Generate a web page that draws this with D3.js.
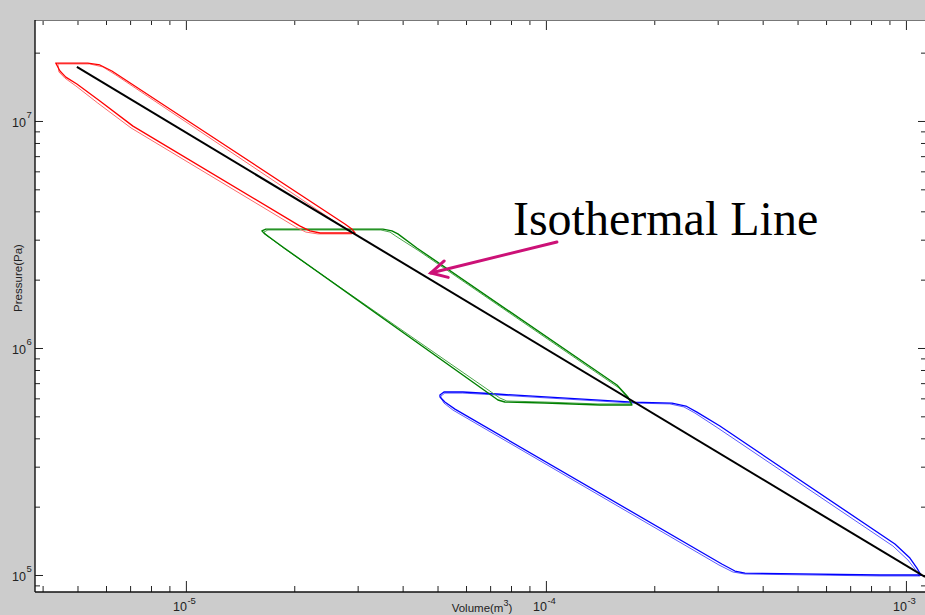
<!DOCTYPE html>
<html>
<head>
<meta charset="utf-8">
<script src="https://cdn.jsdelivr.net/npm/d3@7"></script>
<style>
  html, body { margin: 0; padding: 0; background: #cccccc; overflow: hidden; }
  svg { display: block; }
</style>
</head>
<body>
<svg id="chart" width="925" height="615"></svg>
<script>
// Pressure–volume loops [volume m^3, pressure Pa], two recorded cycles per stage
const redCycle1 = [
  [4.35e-6, 1.80e7], [5.34e-6, 1.80e7], [5.77e-6, 1.765e7], [6.23e-6, 1.66e7],
  [2.765e-5, 3.52e6], [2.89e-5, 3.34e6], [2.95e-5, 3.21e6], [2.36e-5, 3.21e6],
  [2.21e-5, 3.28e6], [2.07e-5, 3.45e6], [7.13e-6, 9.49e6], [5.77e-6, 1.225e7],
  [4.98e-6, 1.455e7], [4.64e-6, 1.56e7], [4.47e-6, 1.66e7]
];
const redCycle2 = [
  [4.41e-6, 1.783e7], [5.41e-6, 1.783e7], [5.88e-6, 1.73e7], [6.39e-6, 1.594e7],
  [2.73e-5, 3.41e6], [2.86e-5, 3.28e6], [2.89e-5, 3.18e6], [2.326e-5, 3.18e6],
  [2.154e-5, 3.24e6], [2.02e-5, 3.41e6], [7.04e-6, 9.32e6], [5.69e-6, 1.20e7],
  [4.95e-6, 1.426e7], [4.61e-6, 1.546e7], [4.44e-6, 1.644e7]
];
const greenCycle1 = [
  [1.626e-5, 3.28e6], [1.668e-5, 3.34e6], [3.526e-5, 3.34e6], [3.735e-5, 3.28e6],
  [3.88e-5, 3.18e6], [4.38e-5, 2.758e6], [1.575e-4, 6.87e5], [1.69e-4, 6.08e5],
  [1.734e-4, 5.61e5], [1.413e-4, 5.61e5], [9.94e-5, 5.72e5], [7.69e-5, 5.78e5],
  [7.36e-5, 5.90e5], [1.859e-5, 2.786e6], [1.733e-5, 3.02e6], [1.657e-5, 3.18e6]
];
const greenCycle2 = [
  [1.647e-5, 3.24e6], [1.69e-5, 3.31e6], [3.48e-5, 3.31e6], [3.69e-5, 3.24e6],
  [3.83e-5, 3.11e6], [4.44e-5, 2.676e6], [1.595e-4, 6.67e5], [1.701e-4, 5.96e5],
  [1.723e-4, 5.67e5], [1.395e-4, 5.67e5], [9.94e-5, 5.78e5], [7.79e-5, 5.84e5],
  [7.45e-5, 6.02e5], [1.884e-5, 2.73e6], [1.744e-5, 2.99e6], [1.668e-5, 3.15e6]
];
const blueCycle1 = [
  [5.077e-5, 6.21e5], [5.21e-5, 6.40e5], [5.88e-5, 6.40e5], [7.31e-5, 6.27e5],
  [1.745e-4, 5.78e5], [2.239e-4, 5.72e5], [2.448e-4, 5.55e5], [2.627e-4, 5.22e5],
  [3.043e-4, 4.53e5], [9.32e-4, 1.369e5], [1.026e-3, 1.188e5], [1.073e-3, 1.073e5],
  [1.101e-3, 1.00e5], [8.47e-4, 1.00e5], [3.572e-4, 1.02e5], [3.35e-4, 1.041e5],
  [3.08e-4, 1.118e5], [5.59e-5, 5.38e5], [5.24e-5, 5.78e5], [5.08e-5, 6.08e5]
];
const blueCycle2 = [
  [5.11e-5, 6.14e5], [5.24e-5, 6.33e5], [5.88e-5, 6.33e5], [7.31e-5, 6.21e5],
  [1.745e-4, 5.72e5], [2.21e-4, 5.67e5], [2.417e-4, 5.50e5], [2.594e-4, 5.17e5],
  [3.005e-4, 4.44e5], [9.20e-4, 1.342e5], [1.013e-3, 1.164e5], [1.059e-3, 1.063e5],
  [1.094e-3, 9.90e4], [8.47e-4, 9.90e4], [3.572e-4, 1.01e5], [3.307e-4, 1.031e5],
  [3.024e-4, 1.107e5], [5.516e-5, 5.33e5], [5.21e-5, 5.72e5], [5.11e-5, 6.02e5]
];
// Reference isotherm (PV = const) across all three stages
const isotherm = [[4.98e-6, 1.73e7], [1.13e-3, 9.8e4]];

// Axis ranges and tick labels
const xDomain = [3.81e-6, 1.137e-3];
const yDomain = [8.416e4, 2.785e7];
const xMajorTicks = [1e-5, 1e-4, 1e-3];
const xExponents = ["-5", "-4", "-3"];
const yMajorTicks = [1e5, 1e6, 1e7];
const yExponents = ["5", "6", "7"];
const yTitle = "Pressure(Pa)";
const xTitleParts = ["Volume(m", "3", ")"];

// Annotation
const annotationText = "Isothermal Line";
const annotationAt = [8.10e-5, 3.15e6];
const arrowFrom = [1.073e-4, 2.93e6];
const arrowTo = [4.79e-5, 2.14e6];

// ---- layout ----
const plotLeft = 35, plotTop = 20, plotW = 891, plotH = 572;
const svg = d3.select("#chart");

const x = d3.scaleLog().domain(xDomain).range([plotLeft, plotLeft + plotW]);
const y = d3.scaleLog().domain(yDomain).range([plotTop + plotH, plotTop]);

svg.append("rect").attr("width", 925).attr("height", 615).attr("fill", "#cccccc");
svg.append("rect").attr("x", plotLeft).attr("y", plotTop)
  .attr("width", plotW).attr("height", plotH).attr("fill", "#ffffff");

svg.append("clipPath").attr("id", "plotClip")
  .append("rect").attr("x", plotLeft).attr("y", plotTop).attr("width", plotW).attr("height", plotH);

// minor tick positions (2..9 within each decade)
function minorTicks(domain) {
  const out = [];
  const lo = Math.floor(Math.log10(domain[0])), hi = Math.ceil(Math.log10(domain[1]));
  for (let e = lo; e <= hi; e++) {
    for (let m = 2; m <= 9; m++) {
      const v = m * Math.pow(10, e);
      if (v >= domain[0] && v <= domain[1]) out.push(v);
    }
  }
  return out;
}
const xMinor = minorTicks(xDomain);
const yMinor = minorTicks(yDomain);

function drawAxis(axisFn, scale, transform, values, size) {
  const g = svg.append("g").attr("transform", transform)
    .call(axisFn(scale).tickValues(values).tickSize(size).tickFormat(""));
  g.select(".domain").remove();
  g.selectAll(".tick line").attr("stroke", "#222").attr("stroke-width", 1);
  return g;
}
// bottom (ticks point up into the plot)
drawAxis(d3.axisBottom, x, `translate(0,${plotTop + plotH})`, xMinor, -6);
drawAxis(d3.axisBottom, x, `translate(0,${plotTop + plotH})`, xMajorTicks, -11);
// top (ticks point down)
drawAxis(d3.axisTop, x, `translate(0,${plotTop})`, xMinor, -5);
drawAxis(d3.axisTop, x, `translate(0,${plotTop})`, xMajorTicks, -10);
// left (ticks point right)
drawAxis(d3.axisLeft, y, `translate(${plotLeft},0)`, yMinor, -5);
drawAxis(d3.axisLeft, y, `translate(${plotLeft},0)`, yMajorTicks, -8);
// right (ticks point left)
drawAxis(d3.axisRight, y, `translate(${plotLeft + plotW},0)`, yMinor, -5);
drawAxis(d3.axisRight, y, `translate(${plotLeft + plotW},0)`, yMajorTicks, -8);

// frame lines
svg.append("line").attr("x1", plotLeft).attr("x2", plotLeft + plotW)
  .attr("y1", plotTop + 0.5).attr("y2", plotTop + 0.5).attr("stroke", "#777").attr("stroke-width", 1);
svg.append("line").attr("x1", plotLeft).attr("x2", plotLeft + plotW)
  .attr("y1", plotTop + plotH).attr("y2", plotTop + plotH).attr("stroke", "#111").attr("stroke-width", 1.6);
svg.append("line").attr("x1", plotLeft).attr("x2", plotLeft)
  .attr("y1", plotTop).attr("y2", plotTop + plotH).attr("stroke", "#111").attr("stroke-width", 1.4);

// tick labels: 10 with superscript exponent
const labelFont = "'Liberation Sans', Arial, sans-serif";
yMajorTicks.forEach((v, i) => {
  const yy = y(v);
  svg.append("text").attr("x", 26).attr("y", yy + 6)
    .attr("text-anchor", "end").attr("font-family", labelFont)
    .attr("font-size", 12.5).attr("fill", "#222").text("10");
  svg.append("text").attr("x", 26.5).attr("y", yy - 3)
    .attr("font-family", labelFont).attr("font-size", 9.5).attr("fill", "#222").text(yExponents[i]);
});
xMajorTicks.forEach((v, i) => {
  const xx = x(v);
  svg.append("text").attr("x", xx + 1).attr("y", 611)
    .attr("text-anchor", "end").attr("font-family", labelFont)
    .attr("font-size", 12.5).attr("fill", "#222").text("10");
  svg.append("text").attr("x", xx + 1.5).attr("y", 604)
    .attr("font-family", labelFont).attr("font-size", 9.5).attr("fill", "#222").text(xExponents[i]);
});

// axis titles
svg.append("text").attr("transform", "translate(22,278) rotate(-90)")
  .attr("text-anchor", "middle").attr("font-family", labelFont)
  .attr("font-size", 11.5).attr("fill", "#222").text(yTitle);
const xt = svg.append("text").attr("x", 482).attr("y", 611.5)
  .attr("text-anchor", "middle").attr("font-family", labelFont)
  .attr("font-size", 11.5).attr("fill", "#222");
xt.append("tspan").text(xTitleParts[0]);
xt.append("tspan").attr("dy", -6).attr("font-size", 9).text(xTitleParts[1]);
xt.append("tspan").attr("dy", 6).text(xTitleParts[2]);

// loops
const plot = svg.append("g").attr("clip-path", "url(#plotClip)");
const loopLine = d3.line().x(d => x(d[0])).y(d => y(d[1])).curve(d3.curveLinearClosed);

const loops = [
  { data: blueCycle2, color: "#5a5aff", width: 1 },
  { data: blueCycle1, color: "#0000ff", width: 1.3 },
  { data: greenCycle2, color: "#4aa64a", width: 1 },
  { data: greenCycle1, color: "#008000", width: 1.4 },
  { data: redCycle2, color: "#ff6a6a", width: 1 },
  { data: redCycle1, color: "#ff0000", width: 1.3 }
];
plot.selectAll("path.loop").data(loops).join("path")
  .attr("class", "loop")
  .attr("d", d => loopLine(d.data))
  .attr("fill", "none")
  .attr("stroke", d => d.color)
  .attr("stroke-width", d => d.width)
  .attr("stroke-linejoin", "round");

// isotherm
plot.append("path")
  .attr("d", d3.line().x(d => x(d[0])).y(d => y(d[1]))(isotherm))
  .attr("fill", "none").attr("stroke", "#000").attr("stroke-width", 2);

// annotation arrow
const ax0 = x(arrowFrom[0]), ay0 = y(arrowFrom[1]);
const ax1 = x(arrowTo[0]), ay1 = y(arrowTo[1]);
const ang = Math.atan2(ay0 - ay1, ax0 - ax1);
const headLen = 18, spread = 28 * Math.PI / 180;
const arrowColor = "#cc1177";
svg.append("line").attr("x1", ax0).attr("y1", ay0).attr("x2", ax1).attr("y2", ay1)
  .attr("stroke", arrowColor).attr("stroke-width", 3).attr("stroke-linecap", "round");
svg.append("path")
  .attr("d", `M${ax1 + headLen * Math.cos(ang - spread)},${ay1 + headLen * Math.sin(ang - spread)}` +
             `L${ax1},${ay1}` +
             `L${ax1 + headLen * Math.cos(ang + spread)},${ay1 + headLen * Math.sin(ang + spread)}`)
  .attr("fill", "none").attr("stroke", arrowColor).attr("stroke-width", 3)
  .attr("stroke-linecap", "round").attr("stroke-linejoin", "miter");

svg.append("text")
  .attr("x", x(annotationAt[0])).attr("y", y(annotationAt[1]))
  .attr("font-family", "'Liberation Serif', 'Times New Roman', serif")
  .attr("font-size", 48).attr("fill", "#000").text(annotationText);
</script>
</body>
</html>
